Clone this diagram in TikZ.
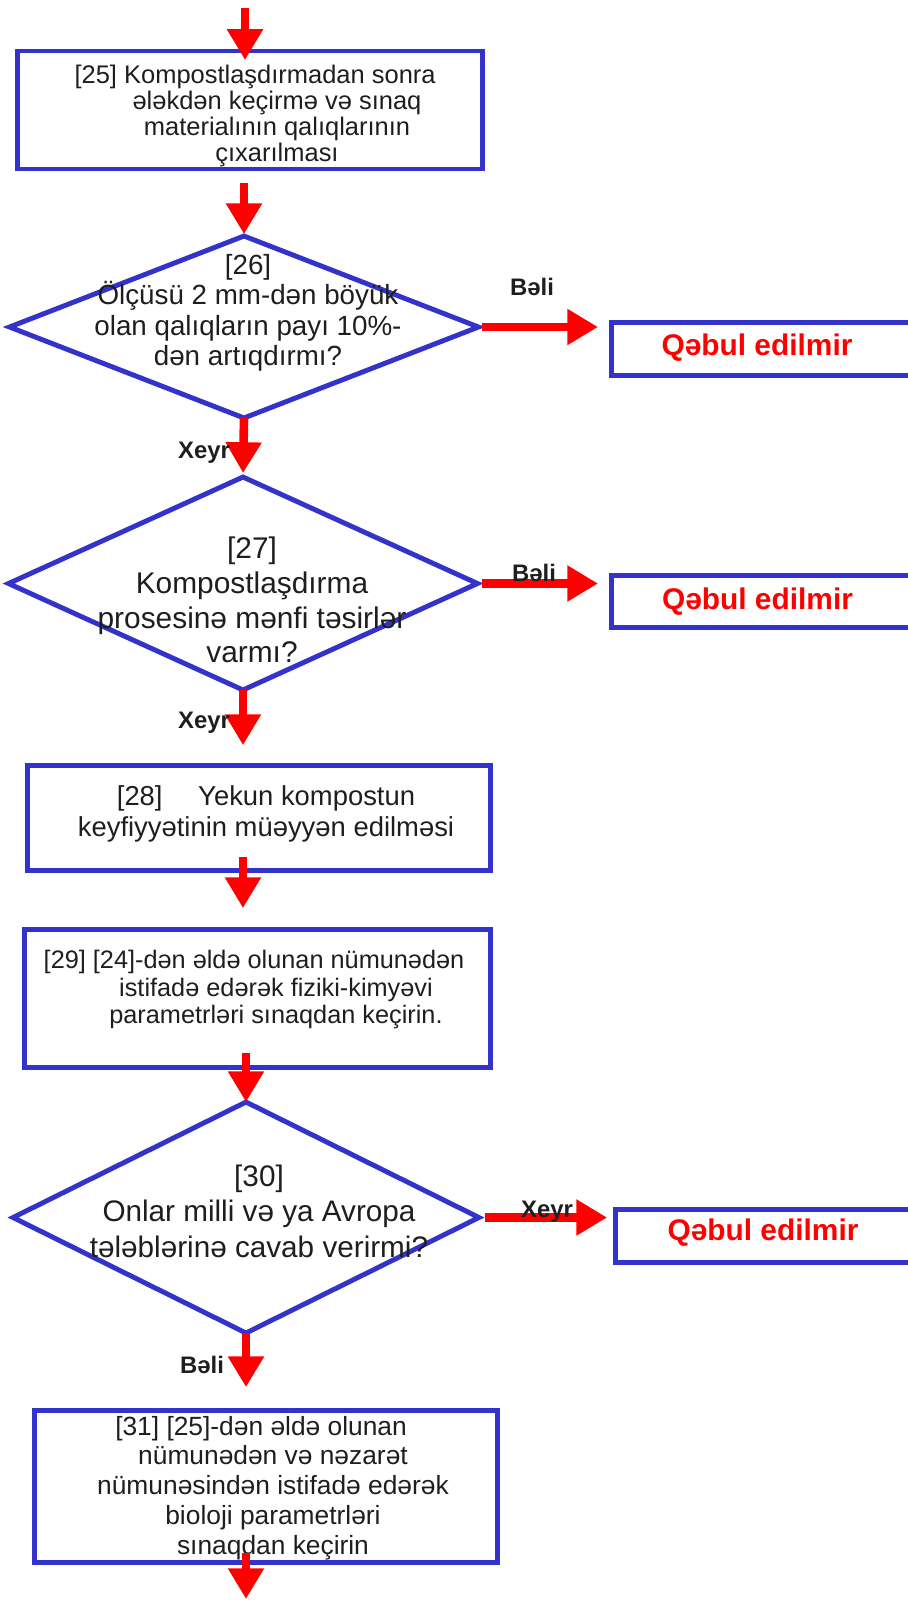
\documentclass[tikz,border=0pt]{standalone}
\usepackage{fontspec}
\setmainfont{Liberation Sans}
\usetikzlibrary{shapes,arrows.meta}
\definecolor{boxblue}{RGB}{51,51,204}
\definecolor{txtgray}{RGB}{30,30,30}
\tikzstyle{block} = [draw=boxblue, line width=2.8pt, rectangle, outer sep=0pt, inner sep=0pt]
\tikzstyle{decision} = [draw=boxblue, line width=2.8pt, diamond, outer sep=0pt, inner sep=0pt]
\tikzset{
  flow/.style ={draw=red, line width=4.9pt, -{Triangle[length=17.5pt,width=19.5pt]}},
  txt/.style ={text=txtgray, align=center, inner sep=0pt},
  answer/.style ={text=txtgray, font=\bfseries\fontsize{13.6}{14}\selectfont, inner sep=0pt},
  nogo/.style ={text=red, font=\bfseries\fontsize{17}{18}\selectfont, inner sep=0pt}
}

\begin{document}
\begin{tikzpicture}[x=0.02cm,y=-0.02cm]
  \useasboundingbox (0,0) rectangle (908,1600);
  \clip (0,0) rectangle (908,1600);

  % shapes
  \node[block, minimum width=9.3cm, minimum height=2.36cm] (b25) at (250,110) {};
  \node[decision, minimum width=9.38cm, minimum height=3.64cm] (d26) at (244,327) {};
  \node[decision, minimum width=9.38cm, minimum height=4.26cm] (d27) at (243,583.5) {};
  \node[block, minimum width=9.26cm, minimum height=2.1cm] (b28) at (259,818) {};
  \node[block, minimum width=9.32cm, minimum height=2.76cm] (b29) at (257.5,998.5) {};
  \node[decision, minimum width=9.32cm, minimum height=4.62cm] (d30) at (246,1217.5) {};
  \node[block, minimum width=9.26cm, minimum height=3.04cm] (b31) at (266,1486.5) {};
  \node[block, minimum width=6.37cm, minimum height=1.06cm] (r1) at (770.75,349) {};
  \node[block, minimum width=6.37cm, minimum height=1.04cm] (r2) at (770.75,601.5) {};
  \node[block, minimum width=6.29cm, minimum height=1.06cm] (r3) at (772.75,1236) {};

  % texts
  \node[txt, font=\fontsize{14.5}{14.7}\selectfont] (t25) at (277,116)
    {[25] Kompostlaşdırmadan sonra\hspace*{24.9pt}\\ ələkdən keçirmə və sınaq\\ materialının qalıqlarının\\ çıxarılması};
  \node[txt, font=\fontsize{15.8}{17.3}\selectfont] (t26) at (248,313)
    {[26]\\ Ölçüsü 2 mm-dən böyük\\ olan qalıqların payı 10\%-\\ dən artıqdırmı?};
  \node[txt, font=\fontsize{17}{19.8}\selectfont] (t27) at (252,600)
    {[27]\\ Kompostlaşdırma\\ prosesinə mənfi təsirlər\\ varmı?};
  \node[txt, font=\fontsize{15.6}{18.1}\selectfont] (t28) at (266,814)
    {[28]\hspace{1.3em}Yekun kompostun\\ keyfiyyətinin müəyyən edilməsi};
  \node[txt, font=\fontsize{14.4}{15.6}\selectfont] (t29) at (276,989.5)
    {[29] [24]-dən əldə olunan nümunədən\hspace*{25pt}\\ istifadə edərək fiziki-kimyəvi\\ parametrləri sınaqdan keçirin.};
  \node[txt, font=\fontsize{16.9}{20.2}\selectfont] (t30) at (259,1211)
    {[30]\\ Onlar milli və ya Avropa\\ tələblərinə cavab verirmi?};
  \node[txt, font=\fontsize{15}{17}\selectfont] (t31) at (273,1488)
    {[31] [25]-dən əldə olunan\hspace*{13.6pt}\\ nümunədən və nəzarət\\ nümunəsindən istifadə edərək\\ bioloji parametrləri\\ sınaqdan keçirin};
  \node[nogo] (n1) at (757,348) {Qəbul edilmir};
  \node[nogo] (n2) at (757.5,602) {Qəbul edilmir};
  \node[nogo] (n3) at (763,1233) {Qəbul edilmir};

  % connectors
  \coordinate (in) at (245,8);
  \coordinate (out) at (246,1599);
  \begin{scope}[every path/.style=flow]
    \path (in) -- (in |- b25.north) [shorten >=-5.1pt];
    \path[shorten <=7.9pt, shorten >=1.1pt] (b25.south -| d26.north) -- (d26.north);
    \path[shorten >=2.3pt] (d26.south) -- (d27.north);
    \path[shorten >=11.6pt] (d27.south) -- (d27.south |- b28.north);
    \path[shorten <=-7.7pt, shorten >=12.2pt] (b28.south -| d27.south) -- (b29.north -| d27.south);
    \path[shorten <=-8.2pt] (b29.south -| d30.north) -- (d30.north);
    \path[shorten >=13.3pt] (d30.south) -- (d30.south |- b31.north);
    \path[shorten <=-5.4pt] (b31.south -| out) -- (out);
    \path[shorten <=2pt, shorten >=7.7pt] (d26.east) -- (d26.east -| r1.west);
    \path[shorten <=2.6pt, shorten >=7.7pt] (d27.east) -- (d27.east -| r2.west);
    \path[shorten <=3.4pt, shorten >=4.8pt] (d30.east) -- (d30.east -| r3.west);
  \end{scope}

  % answers
  \node[answer] (yes1) at (532,287) {Bəli};
  \node[answer] (yes2) at (534,573) {Bəli};
  \node[answer] (no1) at (204,453) {Xeyr};
  \node[answer] (no2) at (204,723) {Xeyr};
  \node[answer] (no3) at (547,1212) {Xeyr};
  \node[answer] (yes3) at (202,1365) {Bəli};
\end{tikzpicture}
\end{document}
